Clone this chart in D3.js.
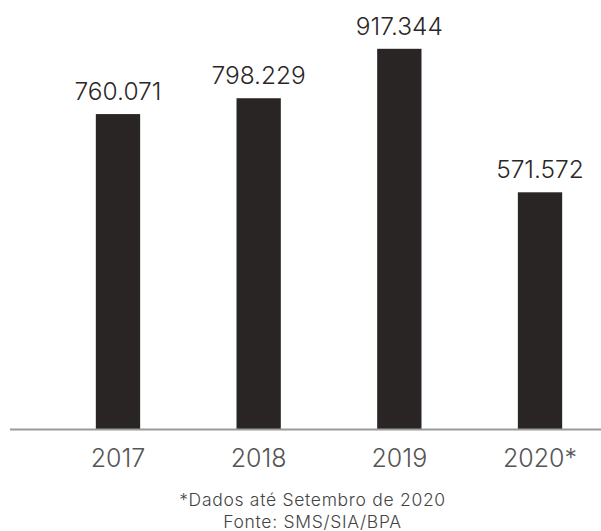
<!DOCTYPE html>
<html>
<head>
<meta charset="utf-8">
<script src="https://cdn.jsdelivr.net/npm/d3@7"></script>
<style>
  html, body { margin: 0; padding: 0; background: #fff; }
  svg { display: block; font-family: Inter, "Open Sans", sans-serif; }
</style>
</head>
<body>
<svg id="chart" width="601" height="531"></svg>
<script>
// Atendimentos por ano
const years = ["2017", "2018", "2019", "2020*"];
const values = [760071, 798229, 917344, 571572];
const valueLabels = ["760.071", "798.229", "917.344", "571.572"];
const notes = ["*Dados até Setembro de 2020", "Fonte: SMS/SIA/BPA"];

const svg = d3.select("#chart");
const baseY = 429.5;

const x = d3.scaleBand()
  .domain(years)
  .range([48, 610])
  .paddingInner(0.685)
  .paddingOuter(0.34);

const y = d3.scaleLinear()
  .domain([0, 1000000])
  .range([baseY, 14.5]);

// bars
svg.selectAll("rect.bar")
  .data(values)
  .join("rect")
  .attr("class", "bar")
  .attr("x", (d, i) => x(years[i]))
  .attr("y", d => y(d))
  .attr("width", x.bandwidth())
  .attr("height", d => y(0) - y(d))
  .attr("fill", "#2a2525");

// value labels above bars
svg.selectAll("text.val")
  .data(values)
  .join("text")
  .attr("class", "val")
  .attr("x", (d, i) => x(years[i]) + x.bandwidth() / 2)
  .attr("y", d => y(d) - 14)
  .attr("text-anchor", "middle")
  .attr("font-size", 24.5)
  .attr("font-weight", 300)
  .attr("fill", "#2b2727")
  .text((d, i) => valueLabels[i]);

// baseline axis
const axis = d3.axisBottom(x).tickSize(0);
const g = svg.append("g")
  .attr("transform", `translate(0,${baseY})`)
  .call(axis);
g.select(".domain")
  .attr("d", "M10,0H601")
  .attr("stroke", "#9a9a9a")
  .attr("stroke-width", 2);
g.selectAll(".tick text")
  .attr("y", 37.5)
  .attr("dy", 0)
  .attr("font-family", "Inter, 'Open Sans', sans-serif")
  .attr("font-size", 25)
  .attr("font-weight", 300)
  .attr("fill", "#555");

// footnotes
svg.selectAll("text.note")
  .data(notes)
  .join("text")
  .attr("class", "note")
  .attr("x", 312.5)
  .attr("y", (d, i) => 506 + i * 21.5)
  .attr("text-anchor", "middle")
  .attr("font-size", 17.5)
  .attr("letter-spacing", 0.7)
  .attr("font-weight", 300)
  .attr("fill", "#444")
  .text(d => d);
</script>
</body>
</html>
